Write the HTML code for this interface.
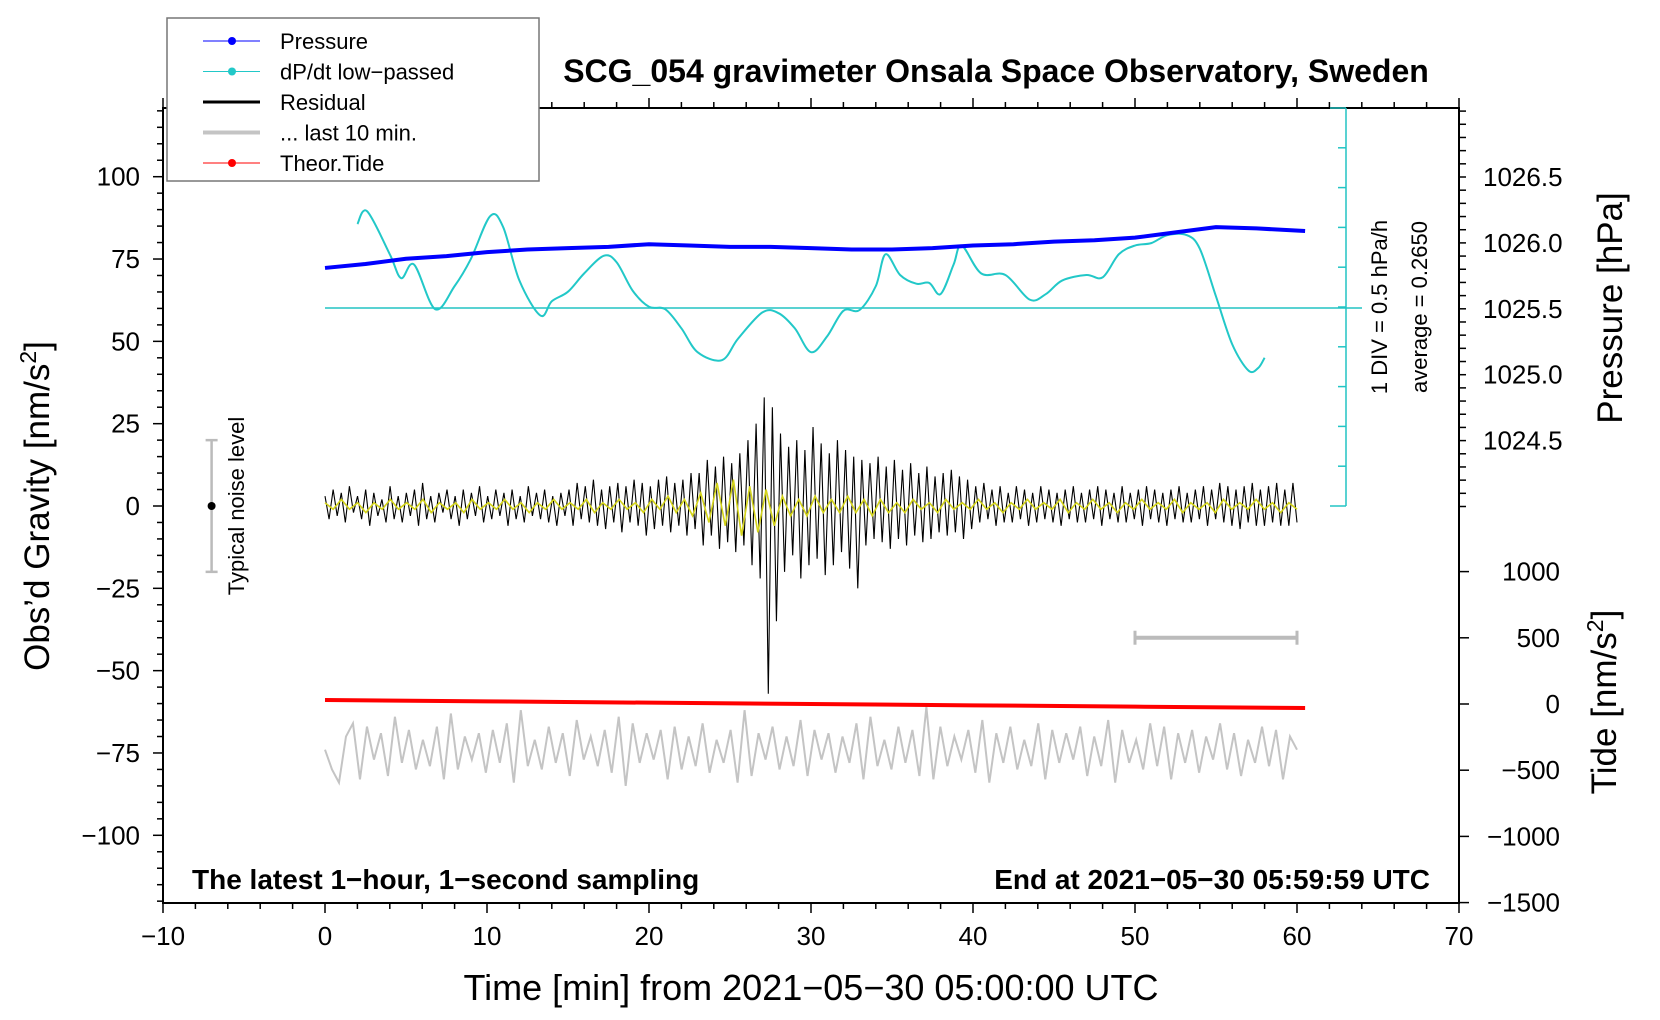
<!DOCTYPE html>
<html><head><meta charset="utf-8">
<style>
html,body{margin:0;padding:0;background:#fff;}
svg{display:block;font-family:"Liberation Sans",sans-serif;}
</style></head>
<body>
<svg id="chart" width="1660" height="1020" viewBox="0 0 1660 1020">
<g id="layer"></g>
</svg>
<script>
// ---- data ----
const pressureTimes = [0,2.5,5,7.5,10,12.5,15,17.5,20,22.5,25,27.5,30,32.5,35,37.5,40,42.5,45,47.5,50,52.5,55,57.5,60.5];
const pressureValues = [1025.81,1025.84,1025.88,1025.90,1025.93,1025.95,1025.96,1025.97,1025.99,1025.98,1025.97,1025.97,1025.96,1025.95,1025.95,1025.96,1025.98,1025.99,1026.01,1026.02,1026.04,1026.08,1026.12,1026.11,1026.09];
const dpdtTimes = [2,2.6,4,4.7,5.5,6.8,8,9,10.2,11,12,13.3,14,15,16,17.2,18,19,20,21,22,23,24.5,25.5,27,28,29,30,31,32,33,34,34.6,35.5,36.5,37.3,38,38.8,39.3,40.5,42,43.5,44.5,45.5,47,48,49,50,51,52,53.2,54,55,56,57,57.6,58];
const dpdtValues = [1.32,1.48,0.94,0.64,0.81,0.25,0.54,0.88,1.42,1.28,0.61,0.17,0.35,0.47,0.70,0.92,0.84,0.48,0.28,0.25,0.01,-0.29,-0.39,-0.12,0.21,0.20,0.01,-0.29,-0.09,0.23,0.24,0.54,0.94,0.68,0.57,0.58,0.44,0.81,1.05,0.70,0.68,0.37,0.44,0.61,0.68,0.65,0.94,1.05,1.08,1.18,1.18,1.01,0.41,-0.19,-0.52,-0.49,-0.36];
const dpdtAverage = 0.265;
const residualValues = [3,-4,5,-3,4,-5,6,-2,3,-4,5,-6,4,-3,2,-5,6,-4,3,-5,4,-3,5,-6,7,-4,3,-5,4,-2,5,-4,3,-6,5,-4,4,-3,6,-5,3,-4,5,-3,4,-6,5,-4,3,-5,6,-3,4,-4,5,-5,3,-6,4,-3,
5,-6,7,-4,6,-5,8,-6,5,-7,6,-5,7,-8,6,-5,8,-6,7,-9,6,-7,8,-6,9,-8,7,-6,8,-9,10,-7,
10,-12,14,-9,12,-13,15,-11,13,-14,16,-12,
20,-18,25,-22,
33,-57,30,-35,
22,-20,18,-15,20,-22,17,-18,24,-16,19,-21,16,-18,20,-14,17,-19,15,-25,
14,-12,13,-10,15,-11,12,-13,14,-10,11,-12,13,-9,10,-11,12,-10,9,-8,10,-9,11,-8,9,-10,8,-7,
6,-5,7,-4,5,-6,6,-5,4,-5,6,-4,5,-6,4,-5,6,-4,5,-5,4,-6,5,-4,6,-5,4,-5,5,-4,6,-6,5,-4,4,-5,6,-5,4,-4,5,-6,6,-4,5,-5,4,-6,5,-4,6,-5,4,-5,5,-4,6,-6,5,-4,7,-5,6,-6,5,-7,6,-5,7,-6,5,-6,6,-5,7,-6,5,-6,7,-5];
const filteredValues = [1,-1,2,-1,1,-2,1,-1,2,-1,1,-1,2,-2,1,-1,1,-2,2,-1,1,-1,2,-1,1,-2,1,-1,2,-1,1,-1,2,-2,1,-1,2,-1,1,-2,2,-1,3,-2,2,-3,
4,-5,7,-6,8,-9,6,-8,5,-6,
3,-3,2,-3,3,-2,2,-2,3,-2,2,-3,2,-2,1,-2,2,-1,1,-2,2,-1,1,-1,2,-1,1,-2,1,-1,2,-1,1,-1,2,-2,1,-1,2,-1,1,-2,1,-1,2,-1,1,-1,2,-2,1,-1,1,-2,2,-1,1,-1,2,-1,1,-2,1,-1];
const last10Values = [0,-6,-10,4,8,-9,7,-3,5,-8,10,-4,6,-6,3,-5,7,-9,11,-6,4,-3,5,-7,6,-4,8,-10,12,-5,3,-6,7,-4,5,-8,9,-3,4,-5,6,-7,10,-11,8,-4,5,-3,6,-9,7,-6,4,-5,8,-7,3,-4,6,-10,12,-8,5,-3,7,-6,4,-5,9,-8,6,-3,5,-7,4,-4,8,-9,10,-5,3,-6,7,-4,6,-8,13,-9,7,-5,4,-3,6,-7,9,-10,5,-4,7,-6,3,-5,8,-9,6,-4,5,-3,7,-8,4,-5,9,-10,6,-4,3,-6,8,-5,7,-9,5,-4,6,-7,4,-3,8,-6,5,-8,3,-4,7,-5,6,-9,4,0];
const last10Offset = -74;
const tideTimes = [0,10,20,30,40,50,60.5];
const tideValues = [30,20,10,0,-10,-20,-30];
const xTicks = [-10,0,10,20,30,40,50,60,70];
const yTicks = [-100,-75,-50,-25,0,25,50,75,100];
const pTicks = ["1024.5","1025.0","1025.5","1026.0","1026.5"];
const tideTicks = [-1500,-1000,-500,0,500,1000];

// ---- scales ----
const L=163,R=1459,T=108,B=903;
const X=t=>L+(t+10)*(R-L)/80;
const Y=v=>506-v*3.293;
const YP=p=>177+(1026.5-p)*131.8;
const YT=v=>704-v*0.1324;
const YD=v=>308-(v-dpdtAverage)*79.6;
const NS='http://www.w3.org/2000/svg';
const g=document.getElementById('layer');
function el(tag,attrs,parent){const e=document.createElementNS(NS,tag);for(const k in attrs)e.setAttribute(k,attrs[k]);(parent||g).appendChild(e);return e;}
function txt(s,attrs){const e=el('text',attrs);e.textContent=s;return e;}
const minus=s=>String(s).replace('-','\u2212');

let e;
e=el('rect',{x:L,y:T,width:R-L,height:B-T,fill:'none',stroke:'#000','stroke-width':2});



for(let t=-10;t<=70;t+=2){const major=t%10===0;
 el('line',{x1:X(t),x2:X(t),y1:B,y2:B+(major?10:6),stroke:'#000','stroke-width':1.5});
 el('line',{x1:X(t),x2:X(t),y1:T,y2:T-(major?10:6),stroke:'#000','stroke-width':1.5});}
xTicks.forEach(t=>{e=txt(minus(t),{x:X(t),y:945,'font-size':26,'text-anchor':'middle'});
 
 });
for(let v=-120;v<=120;v+=5){const major=v%25===0;
 el('line',{x1:L,x2:L-(major?10:6),y1:Y(v),y2:Y(v),stroke:'#000','stroke-width':1.5});}
yTicks.forEach(v=>{e=txt(minus(v),{x:140,y:Y(v)+9,'font-size':26,'text-anchor':'end'});
 
 });
for(let p=1024.0;p<=1027.0;p+=0.1){const y=YP(p);if(y<T||y>B)continue;
 el('line',{x1:R,x2:R+7,y1:y,y2:y,stroke:'#000','stroke-width':1.5});}
pTicks.forEach(p=>{e=txt(p,{x:1483,y:YP(+p)+9,'font-size':26});
 
 });
tideTicks.forEach(v=>{el('line',{x1:R,x2:R+10,y1:YT(v),y2:YT(v),stroke:'#000','stroke-width':1.5});
 e=txt(minus(v),{x:1560,y:YT(v)+9,'font-size':26,'text-anchor':'end'});
 
 });

e=txt('SCG_054 gravimeter Onsala Space Observatory, Sweden',{x:996,y:82,'font-size':32,'font-weight':'bold','text-anchor':'middle'});

e=txt('Time [min] from 2021\u221205\u221230 05:00:00 UTC',{x:811,y:1000,'font-size':36,'text-anchor':'middle'});

e=el('text',{transform:'translate(49,506) rotate(-90)','font-size':35,'text-anchor':'middle'});
e.innerHTML='Obs\u2019d Gravity [nm/s<tspan font-size="23" dy="-13">2</tspan><tspan dy="13">]</tspan>';

e=txt('Pressure [hPa]',{transform:'translate(1622,308) rotate(-90)','font-size':35,'text-anchor':'middle'});

e=el('text',{transform:'translate(1616,702) rotate(-90)','font-size':35,'text-anchor':'middle'});
e.innerHTML='Tide [nm/s<tspan font-size="23" dy="-13">2</tspan><tspan dy="13">]</tspan>';

e=txt('The latest 1\u2212hour, 1\u2212second sampling',{x:192,y:889,'font-size':28,'font-weight':'bold'});

e=txt('End at 2021\u221205\u221230 05:59:59 UTC',{x:1430,y:889,'font-size':28,'font-weight':'bold','text-anchor':'end'});


e=el('line',{x1:1346,x2:1346,y1:108,y2:506,stroke:'#22c4c4','stroke-width':1.5});

for(let i=0;i<=10;i++){const y=108+i*39.8;el('line',{x1:1346,x2:(i===0||i===10)?1330:1338,y1:y,y2:y,stroke:'#22c4c4','stroke-width':1.5});}
e=txt('1 DIV = 0.5 hPa/h',{transform:'translate(1387,307) rotate(-90)','font-size':22,'text-anchor':'middle'});

e=txt('average = 0.2650',{transform:'translate(1427,307) rotate(-90)','font-size':22,'text-anchor':'middle'});

e=el('line',{x1:X(0),x2:1362,y1:YD(dpdtAverage),y2:YD(dpdtAverage),stroke:'#22c4c4','stroke-width':1.5});


e=el('line',{x1:X(-7),x2:X(-7),y1:Y(20),y2:Y(-20),stroke:'#bbb','stroke-width':2.5});

el('line',{x1:X(-7)-6,x2:X(-7)+6,y1:Y(20),y2:Y(20),stroke:'#bbb','stroke-width':2.5});
el('line',{x1:X(-7)-6,x2:X(-7)+6,y1:Y(-20),y2:Y(-20),stroke:'#bbb','stroke-width':2.5});
e=el('circle',{cx:X(-7),cy:Y(0),r:4,fill:'#000'});

e=txt('Typical noise level',{transform:`translate(244,${Y(0)}) rotate(-90)`,'font-size':22,'text-anchor':'middle'});


e=el('line',{x1:X(50),x2:X(60),y1:Y(-40),y2:Y(-40),stroke:'#bbb','stroke-width':4});

el('line',{x1:X(50),x2:X(50),y1:Y(-40)-7,y2:Y(-40)+7,stroke:'#bbb','stroke-width':3});
el('line',{x1:X(60),x2:X(60),y1:Y(-40)-7,y2:Y(-40)+7,stroke:'#bbb','stroke-width':3});

function poly(ts,vs,sy,attrs,name){const pts=vs.map((v,i)=>X(ts(i))+','+sy(v)).join(' ');
 const p=el('polyline',Object.assign({points:pts,fill:'none'},attrs));
 return p;}
function smooth(ts,vs,sy,attrs,name){
 const P=vs.map((v,i)=>[X(ts(i)),sy(v)]);
 let d='M'+P[0][0]+','+P[0][1];
 for(let i=0;i<P.length-1;i++){const p0=P[Math.max(0,i-1)],p1=P[i],p2=P[i+1],p3=P[Math.min(P.length-1,i+2)];
  const c1=[p1[0]+(p2[0]-p0[0])/6,p1[1]+(p2[1]-p0[1])/6],c2=[p2[0]-(p3[0]-p1[0])/6,p2[1]-(p3[1]-p1[1])/6];
  d+=` C${c1[0]},${c1[1]} ${c2[0]},${c2[1]} ${p2[0]},${p2[1]}`;}
 const p=el('path',Object.assign({d:d,fill:'none'},attrs));
 return p;}
e=poly(i=>i*60/(last10Values.length-1),last10Values,v=>Y(v+last10Offset),{stroke:'#c4c4c4','stroke-width':2},'last-10-min-line');

e=poly(i=>i*60/(residualValues.length-1),residualValues,Y,{stroke:'#000','stroke-width':1.1},'residual-line');

e=poly(i=>i*60/(filteredValues.length-1),filteredValues,Y,{stroke:'#d4d41a','stroke-width':1.6},'residual-filtered-line');

e=poly(i=>tideTimes[i],tideValues,YT,{stroke:'#f00','stroke-width':4},'tide-line');

e=smooth(i=>dpdtTimes[i],dpdtValues,YD,{stroke:'#22c8c8','stroke-width':2},'dpdt-line');

e=poly(i=>pressureTimes[i],pressureValues,YP,{stroke:'#0000ff','stroke-width':4,'stroke-linejoin':'round'},'pressure-line');


const lg=el('g',{});

el('rect',{x:167,y:18,width:372,height:163,fill:'#fff',stroke:'#777','stroke-width':1.5},lg);
const leg=[['Pressure','#0000ff',1,true],['dP/dt low\u2212passed','#22c8c8',1,true],['Residual','#000',3,false],['... last 10 min.','#c4c4c4',4,false],['Theor.Tide','#f00',1,true]];
leg.forEach((d,i)=>{const y=41+i*30.5;
 const it=el('g',{},lg);
 
 
 el('line',{x1:203,x2:260,y1:y,y2:y,stroke:d[1],'stroke-width':d[2]},it);
 if(d[3])el('circle',{cx:232,cy:y,r:4,fill:d[1]},it);
 const t=el('text',{x:280,y:y+8,'font-size':22},it);t.textContent=d[0];});
</script>
</body></html>
